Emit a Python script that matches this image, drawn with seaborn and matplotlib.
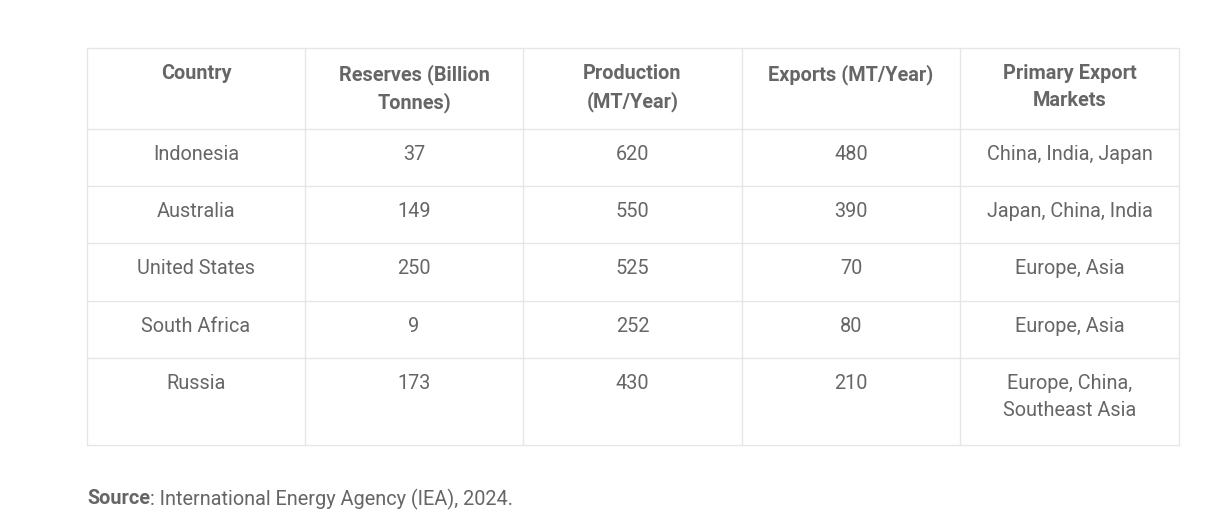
import matplotlib
matplotlib.use('Agg')
import matplotlib.pyplot as plt
import seaborn as sns

# ── DATA ──────────────────────────────────────────────
headers = ['Country', 'Reserves (Billion\nTonnes)', 'Production\n(MT/Year)',
           'Exports (MT/Year)', 'Primary Export\nMarkets']
countries = ['Indonesia', 'Australia', 'United States', 'South Africa', 'Russia']
reserves = [37, 149, 250, 9, 173]
production = [620, 550, 525, 252, 430]
exports = [480, 390, 70, 80, 210]
markets = ['China, India, Japan', 'Japan, China, India', 'Europe, Asia',
           'Europe, Asia', 'Europe, China,\nSoutheast Asia']
source_label = 'Source'
source_text = ': International Energy Agency (IEA), 2024.'

sns.set_theme(style='white')
plt.rcParams['font.family'] = ['Roboto', 'DejaVu Sans']

W, H = 1215, 522
fig = plt.figure(figsize=(W / 100, H / 100), dpi=100)
ax = fig.add_axes([0, 0, 1, 1])
ax.set_xlim(0, W)
ax.set_ylim(H, 0)
ax.axis('off')

col_edges = [87, 305, 523, 742, 960, 1179]
row_edges = [48, 129, 186, 243, 301, 358, 445]
line_c = '#e6e6e6'
txt_c = '#666666'
fs = 14.3

for x in col_edges:
    ax.plot([x, x], [row_edges[0], row_edges[-1]], color=line_c, lw=1)
for y in row_edges:
    ax.plot([col_edges[0], col_edges[-1]], [y, y], color=line_c, lw=1)

rows = [headers] + [[c, str(r), str(p), str(e), m]
                    for c, r, p, e, m in zip(countries, reserves, production, exports, markets)]
for i, row in enumerate(rows):
    top = row_edges[i] + 16
    for j, cell in enumerate(row):
        cx = (col_edges[j] + col_edges[j + 1]) / 2
        ax.text(cx, top, cell, ha='center', va='top', fontsize=fs, color=txt_c,
                fontweight='bold' if i == 0 else 'normal', linespacing=1.5)

t = ax.text(87, 499, source_label, ha='left', va='center', fontsize=fs,
            color=txt_c, fontweight='bold')
fig.canvas.draw()
bb = t.get_window_extent()
ax.text(87 + bb.width, 499, source_text, ha='left', va='center', fontsize=fs, color=txt_c)

fig.savefig('out.png', dpi=100)
